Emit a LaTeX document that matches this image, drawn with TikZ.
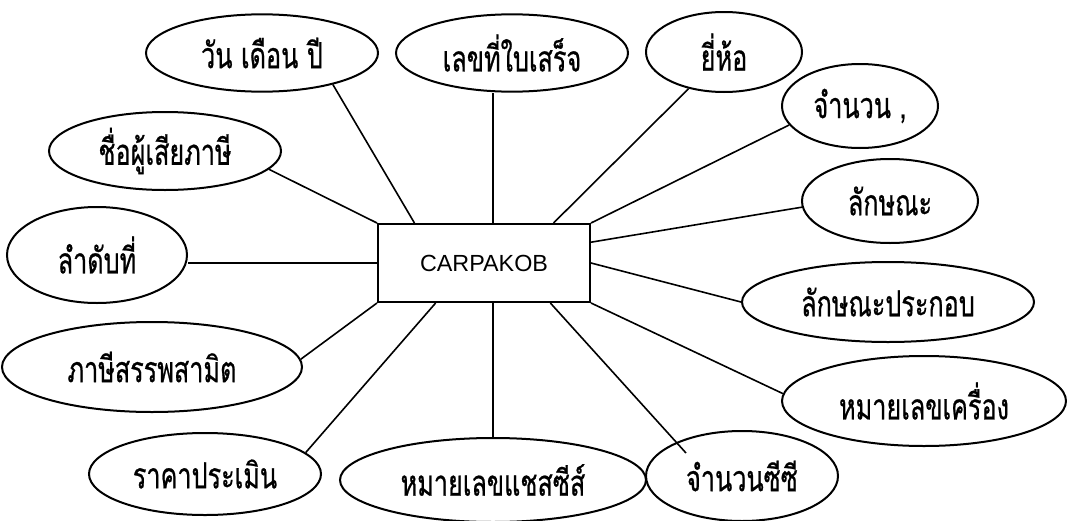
\documentclass[tikz,border=0pt]{standalone}
\usepackage{fontspec}
\setmainfont{Liberation Sans}
\newfontfamily\thaifont[Script=Thai, FakeStretch = 0.7, FakeBold = 0.6]{Loma}
\usetikzlibrary{calc, shapes.geometric}

\tikzset{
	attr/.style = {ellipse, draw, line width = 1.5pt, inner sep = 0pt, font = \thaifont\fontsize{27}{29}\selectfont},
	link/.style = {line width = 1.2pt},
}

\begin{document}
\begin{tikzpicture}[x = 0.75pt, y = -0.75pt]
		%frame of the picture, one unit is one pixel of the scan
		\useasboundingbox (0,0) rectangle (1067,521);
		
		%entity
		\node [draw, line width = 1.5pt, minimum width = 159pt, minimum height = 58.5pt, font = \fontsize{17.5}{20}\selectfont] (car) at (484,263) {CARPAKOB};
		
		%attributes, upper row
		\node [attr, minimum width = 174pt, minimum height = 58pt] (date) at (262,53) {วัน เดือน ปี};
		\node [attr, minimum width = 174pt, minimum height = 58pt] (bill) at (512,53) {เลขที่ใบเสร็จ};
		\node [attr, minimum width = 117pt, minimum height = 60pt] (brand) at (724,52) {ยี่ห้อ};
		
		%attributes, right side
		\node [attr, minimum width = 117pt, minimum height = 63pt] (qty) at (860,106) {จำนวน ,};
		\node [attr, minimum width = 132pt, minimum height = 63pt] (look) at (890,201) {ลักษณะ};
		\node [attr, minimum width = 219pt, minimum height = 60pt] (part) at (888,302) {ลักษณะประกอบ};
		\node [attr, minimum width = 213pt, minimum height = 67.5pt] (engine) at (924,401) {หมายเลขเครื่อง};
		
		%attributes, lower row
		\node [attr, minimum width = 144pt, minimum height = 67.5pt] (cc) at (742,476) {จำนวนซีซี};
		\node [attr, minimum width = 229.5pt, minimum height = 63pt] (chassis) at (493,480) {หมายเลขแชสซีส์};
		\node [attr, minimum width = 174pt, minimum height = 61.5pt] (price) at (205,474) {ราคาประเมิน};
		
		%attributes, left side
		\node [attr, minimum width = 225pt, minimum height = 67.5pt] (tax) at (152,367) {ภาษีสรรพสามิต};
		\node [attr, minimum width = 135pt, minimum height = 72pt] (order) at (97,255) {ลำดับที่};
		\node [attr, minimum width = 174pt, minimum height = 58.5pt] (payer) at (165,151) {ชื่อผู้เสียภาษี};
		
		%connectors
		\draw [link] (car.north west) -- (payer.-10);
		\draw [link] ($(car.north west)!0.175!(car.north east)$) -- (date.-24);
		\draw [link] (car.north -| chassis.north) -- (bill.south -| chassis.north);
		\draw [link] ($(car.north west)!0.825!(car.north east)$) -- (brand.-134);
		\draw [link] (car.north east) -- (qty.-165);
		\draw [link] ($(car.north east)!0.24!(car.south east)$) -- (look.184);
		\draw [link] (car.east) -- (part.180);
		\draw [link] (car.south east) -- (engine.177);
		\draw [link] ($(car.south west)!0.81!(car.south east)$) -- ($(cc)+(-56,-23)$);
		\draw [link] (car.south -| chassis.north) -- (chassis.north);
		\draw [link] ($(car.south west)!0.274!(car.south east)$) -- (price.12);
		\draw [link] (car.south west) -- (tax.3);
		\draw [link] (car.west) -- (car.west -| order.east);
	\end{tikzpicture}
\end{document}
